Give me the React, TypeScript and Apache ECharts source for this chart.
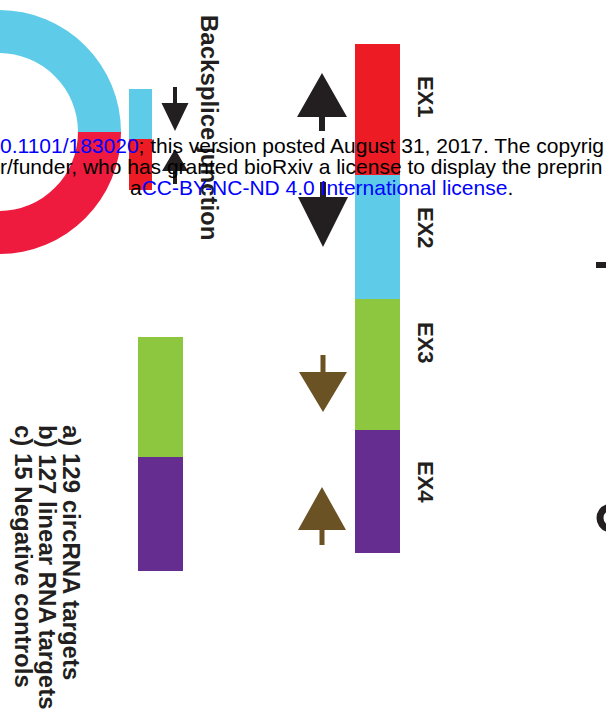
import React, { useEffect, useRef } from "react";
import * as echarts from "echarts";

// ---- data ----
const ringNames = ["EX2", "EX1"];
const ringShares = [1, 1];
const ringColors = ["#5ecbe8", "#ee1b3e"];

const exonNames = ["EX1", "EX2", "EX3", "EX4"];
const exonLengths = [131, 124, 131, 123];
const exonColors = ["#ed1c24", "#5ecbe8", "#8dc63f", "#662d91"];

const junctionNames = ["EX2", "EX1"];
const junctionBar = [50, 51];
const junctionColors = ["#5ecbe8", "#ed1c24"];

const targetNames = ["EX3", "EX4"];
const targetBar = [120, 114];
const targetColors = ["#8dc63f", "#662d91"];

const targetLines = [
  "a) 129 circRNA targets",
  "b) 127 linear RNA targets",
  "c) 15 Negative controls",
];

const watermarkLines = [
  "{b|0.1101/183020}; this version posted August 31, 2017. The copyrig",
  "r/funder, who has granted bioRxiv a license to display the preprin",
  "a{b|CC-BY-NC-ND 4.0 International license}.",
];

const FONT = '"Liberation Sans", Arial, Helvetica, sans-serif';
const DARK = "#231f20";
const BROWN = "#6b5224";

function arrowPoly(
  cx: number,
  tip: number,
  base: number,
  half: number,
  tail: number,
  sh: number,
  color: string
) {
  return {
    type: "polygon",
    z: 50,
    silent: true,
    shape: {
      points: [
        [cx - sh, tail],
        [cx + sh, tail],
        [cx + sh, base],
        [cx + half, base],
        [cx, tip],
        [cx - half, base],
        [cx - sh, base],
      ],
    },
    style: { fill: color },
  };
}

function rotText(x: number, y: number, text: string, size: number) {
  return {
    type: "text",
    x,
    y,
    rotation: -Math.PI / 2,
    z: 60,
    silent: true,
    style: {
      x: 0,
      y: 0,
      text,
      fill: DARK,
      fontSize: size,
      fontWeight: "bold",
      fontFamily: FONT,
      textAlign: "left",
      textVerticalAlign: "middle",
      align: "left",
      verticalAlign: "middle",
    },
  };
}

function wmText(x: number, y: number, text: string) {
  return {
    type: "text",
    x,
    y,
    z: 100,
    silent: true,
    style: {
      text,
      fill: "#000000",
      fontSize: 21,
      fontFamily: FONT,
      textAlign: "left",
      textVerticalAlign: "middle",
      align: "left",
      verticalAlign: "middle",
      rich: {
        b: { fill: "#0000ff", color: "#0000ff", fontSize: 21, fontFamily: FONT },
      },
    },
  };
}

function stackGrid(
  idx: number,
  values: number[],
  names: string[],
  colors: string[]
) {
  const total = values.reduce((a, b) => a + b, 0);
  const xAxis = { gridIndex: idx, type: "category", data: ["bar"], show: false };
  const yAxis = {
    gridIndex: idx,
    type: "value",
    min: 0,
    max: total,
    inverse: true,
    show: false,
  };
  const series = values.map((v, i) => ({
    type: "bar",
    name: names[i],
    xAxisIndex: idx,
    yAxisIndex: idx,
    stack: "s" + idx,
    barWidth: "100%",
    data: [v],
    silent: true,
    itemStyle: { color: colors[i] },
  }));
  return { xAxis, yAxis, series };
}

export default function App() {
  const ref = useRef<HTMLDivElement>(null);
  useEffect(() => {
    if (!ref.current) return;
    const chart = echarts.init(ref.current, undefined, { renderer: "svg" });

    const g0 = stackGrid(0, exonLengths, exonNames, exonColors);
    const g1 = stackGrid(1, junctionBar, junctionNames, junctionColors);
    const g2 = stackGrid(2, targetBar, targetNames, targetColors);

    const exonLabelY = [76, 207, 322, 461];

    const graphics: any[] = [
      // arrows by the exon bar
      arrowPoly(322, 73, 117, 25, 131, 3, DARK),
      arrowPoly(323, 247, 197, 25, 182, 3, DARK),
      arrowPoly(323, 412, 372, 24, 355, 2.5, BROWN),
      arrowPoly(322, 487, 530, 24, 545, 2.5, BROWN),
      // small arrows at the junction
      arrowPoly(175, 131, 103, 13.5, 87, 2, DARK),
      arrowPoly(175, 149, 171, 13, 184, 2, DARK),
      // labels
      rotText(209, 15, "Backsplice junction", 24),
      ...exonNames.map((n, i) => rotText(425, exonLabelY[i], n, 22)),
      ...targetLines.map((t, i) => rotText(71 - i * 24, 425, t, 24)),
      // right-edge fragments of the next panel
      {
        type: "rect",
        z: 40,
        silent: true,
        shape: { x: 596, y: 262, width: 12, height: 6 },
        style: { fill: DARK },
      },
      {
        type: "arc",
        z: 40,
        silent: true,
        shape: {
          cx: 611,
          cy: 518,
          r: 11,
          startAngle: Math.PI * 0.6,
          endAngle: Math.PI * 1.4,
          clockwise: true,
        },
        style: { stroke: DARK, lineWidth: 7, fill: "none" },
      },
      // watermark
      wmText(0, 145, watermarkLines[0]),
      wmText(0, 166, watermarkLines[1]),
      wmText(130, 187, watermarkLines[2]),
    ];

    chart.setOption({
      animation: false,
      backgroundColor: "#ffffff",
      grid: [
        { left: 355, top: 44, width: 45, height: 509 },
        { left: 129, top: 89, width: 23, height: 101 },
        { left: 138, top: 337, width: 45, height: 234 },
      ],
      xAxis: [g0.xAxis, g1.xAxis, g2.xAxis],
      yAxis: [g0.yAxis, g1.yAxis, g2.yAxis],
      series: [
        {
          type: "pie",
          center: [-1, 132],
          radius: [79, 122],
          startAngle: 180,
          clockwise: true,
          silent: true,
          label: { show: false },
          labelLine: { show: false },
          data: ringShares.map((v, i) => ({
            value: v,
            name: ringNames[i],
            itemStyle: { color: ringColors[i] },
          })),
        },
        ...g0.series,
        ...g1.series,
        ...g2.series,
      ],
      graphic: graphics,
    });

    return () => chart.dispose();
  }, []);

  return (
    <div
      ref={ref}
      style={{ position: "absolute", left: 0, top: 0, width: 606, height: 717 }}
    />
  );
}
